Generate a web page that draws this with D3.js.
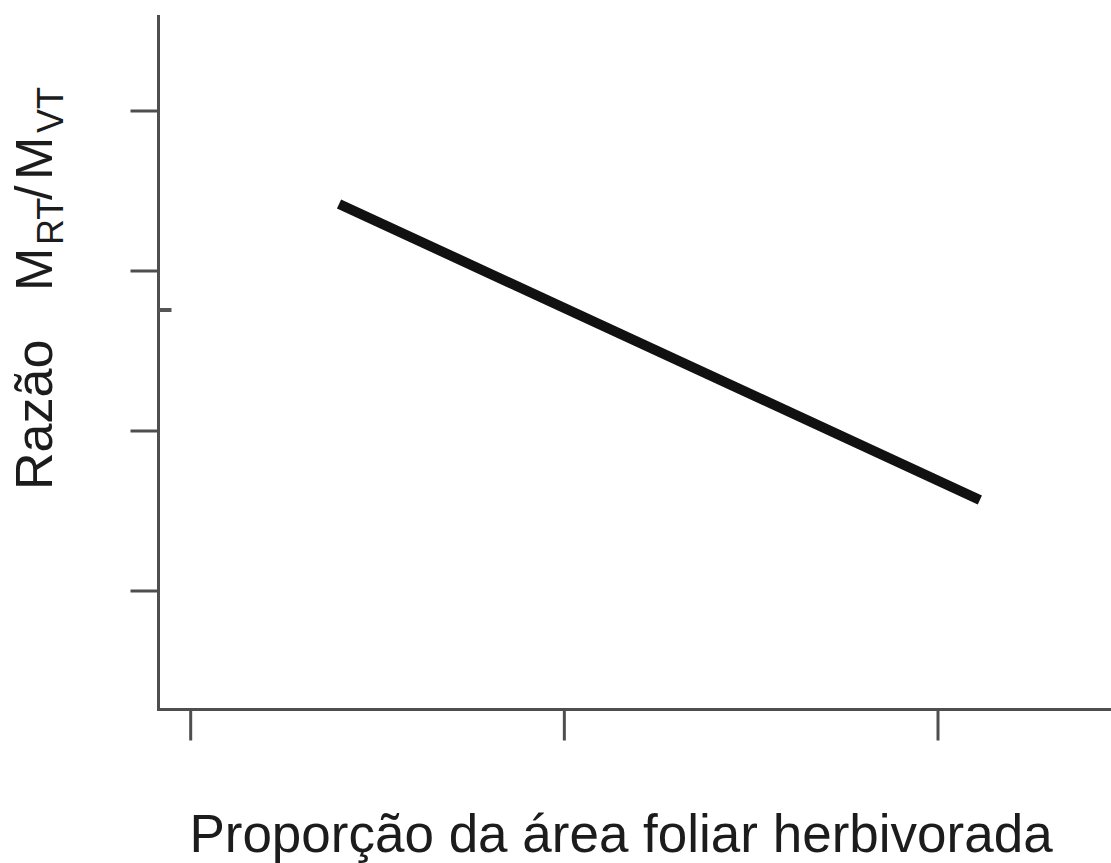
<!DOCTYPE html>
<html>
<head>
<meta charset="utf-8">
<script src="https://cdn.jsdelivr.net/npm/d3@7"></script>
<style>
  html, body { margin: 0; padding: 0; background: #fff; }
  svg { display: block; }
  text { font-family: "Liberation Sans", Arial, sans-serif; fill: #1c1c1c; }
</style>
</head>
<body>
<div id="chart"></div>
<script>
// Tick positions (unlabelled axes)
const xTicks = [0, 1, 2];
const yTicks = [1, 2, 3, 4];

// Fitted trend: leaf area eaten vs. root/shoot mass ratio
const lineX = [0.397, 2.112];
const lineY = [3.419, 1.569];

const xTitle = "Proporção da área foliar herbivorada";

const W = 1111, H = 863;
const axisLeft = 158.5, axisBottom = 709.5, axisTop = 15, axisRight = 1111;
const axisColor = "#4e4e4e";

const svg = d3.select("#chart").append("svg")
  .attr("width", W).attr("height", H);

svg.append("rect").attr("width", W).attr("height", H).attr("fill", "#fff");

const x = d3.scaleLinear().domain([0, 2]).range([190.7, 938]);
const y = d3.scaleLinear().domain([1, 4]).range([591, 111]);

// y axis: line plus outward ticks
const gy = svg.append("g");
gy.append("line")
  .attr("x1", axisLeft).attr("x2", axisLeft)
  .attr("y1", axisTop).attr("y2", axisBottom + 1.5)
  .attr("stroke", axisColor).attr("stroke-width", 3);
gy.selectAll("line.tick").data(yTicks).join("line")
  .attr("class", "tick")
  .attr("x1", axisLeft - 28).attr("x2", axisLeft)
  .attr("y1", d => y(d)).attr("y2", d => y(d))
  .attr("stroke", axisColor).attr("stroke-width", 3);
// short inner stub on the y axis
gy.append("line")
  .attr("x1", axisLeft).attr("x2", axisLeft + 13)
  .attr("y1", 310).attr("y2", 310)
  .attr("stroke", "#555").attr("stroke-width", 4);

// x axis: line plus outward ticks
const gx = svg.append("g");
gx.append("line")
  .attr("x1", axisLeft - 1.5).attr("x2", axisRight)
  .attr("y1", axisBottom).attr("y2", axisBottom)
  .attr("stroke", axisColor).attr("stroke-width", 3);
gx.selectAll("line.tick").data(xTicks).join("line")
  .attr("class", "tick")
  .attr("x1", d => x(d)).attr("x2", d => x(d))
  .attr("y1", axisBottom).attr("y2", axisBottom + 31)
  .attr("stroke", axisColor).attr("stroke-width", 3);

// regression line
const pts = lineX.map((v, i) => [v, lineY[i]]);
svg.append("path")
  .datum(pts)
  .attr("d", d3.line().x(d => x(d[0])).y(d => y(d[1])))
  .attr("fill", "none")
  .attr("stroke", "#111")
  .attr("stroke-width", 10)
  .attr("stroke-linecap", "butt");

// x axis title
svg.append("text")
  .attr("x", 621).attr("y", 852)
  .attr("text-anchor", "middle")
  .attr("font-size", 53)
  .text(xTitle);

// y axis title with subscripts
const yt = svg.append("text")
  .attr("transform", "translate(52,490) rotate(-90)")
  .attr("font-size", 52);
yt.append("tspan").attr("x", 0).text("Razão");
yt.append("tspan").attr("x", 199).text("M");
yt.append("tspan").attr("x", 245).attr("dy", 11).attr("font-size", 36).text("RT");
yt.append("tspan").attr("x", 290).attr("dy", -11).text("/");
yt.append("tspan").attr("x", 310).text("M");
yt.append("tspan").attr("x", 357).attr("dy", 11).attr("font-size", 36).text("VT");
</script>
</body>
</html>
